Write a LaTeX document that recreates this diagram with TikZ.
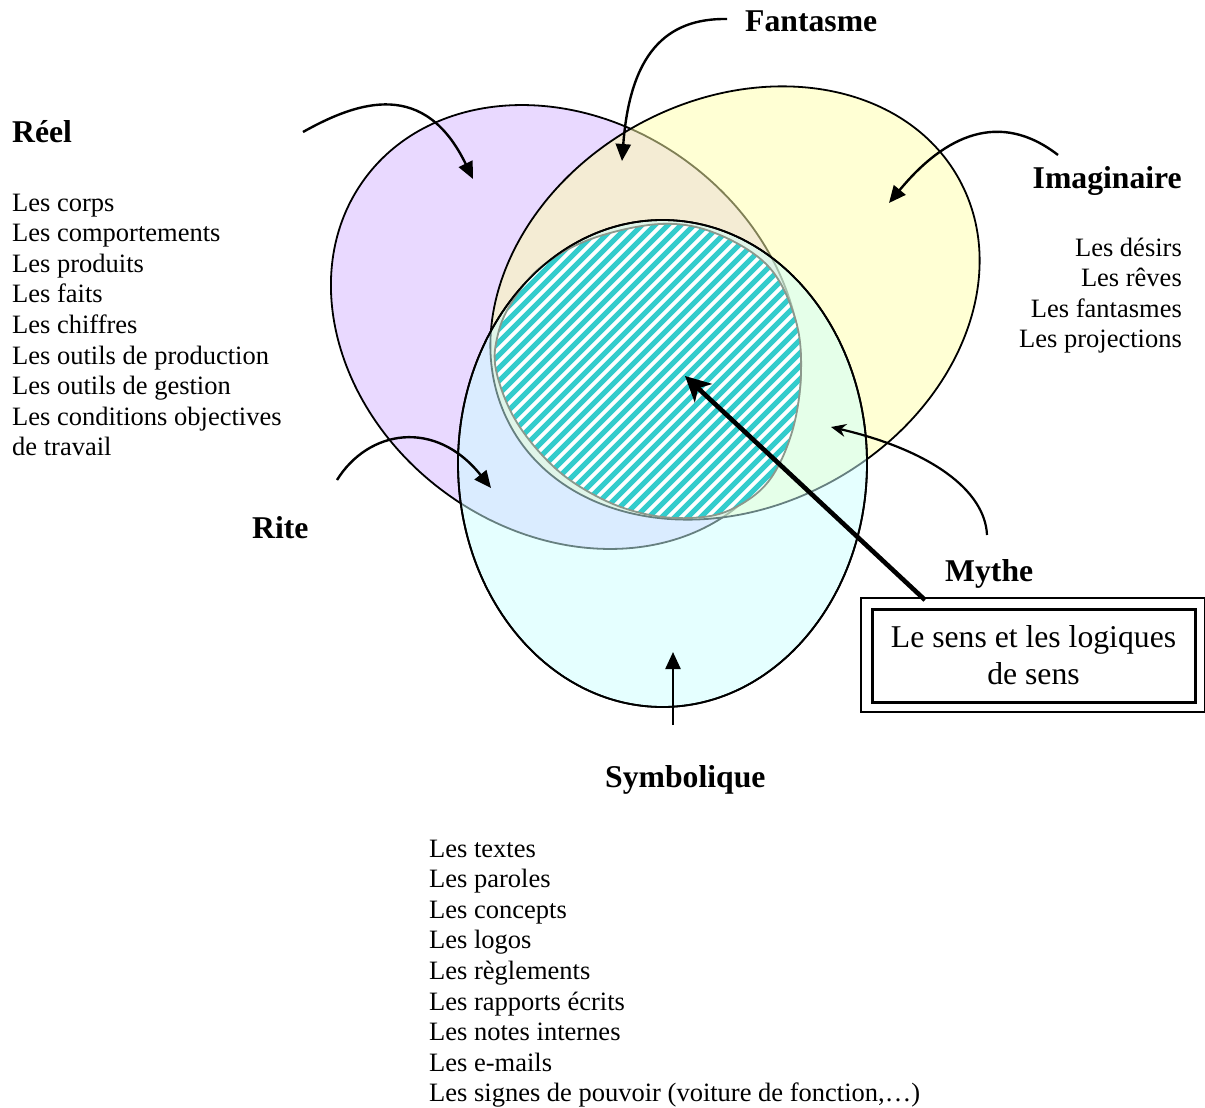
\documentclass[tikz,border=0pt]{standalone}
\usepackage{fontspec}
\setmainfont{Liberation Serif}
\usetikzlibrary{arrows.meta}
\definecolor{reelfill}{RGB}{233,217,255}
\definecolor{imagfill}{RGB}{255,255,171}
\definecolor{symbfill}{RGB}{205,255,255}
\definecolor{hatchcol}{RGB}{51,204,204}
\definecolor{hatchedge}{RGB}{140,152,140}
\begin{document}
\begin{tikzpicture}[x=1pt,y=-1pt,
  shapeline/.style={line width=1.8pt},
  conn/.style={line width=2.4pt,-{Triangle[length=17pt,width=15pt]}},
  thinconn/.style={line width=2.2pt,-{Stealth[length=15pt,width=13pt,inset=5pt]}},
  bigconn/.style={line width=4.6pt,-{Stealth[length=25pt,width=25pt,inset=7pt]}},
  lbl/.style={inner sep=0pt,font=\fontsize{31.7}{36}\selectfont\bfseries},
  txt/.style={inner sep=0pt,font=\fontsize{26.5}{30.6}\selectfont},
  boxtxt/.style={inner sep=0pt,align=center,font=\fontsize{31.7}{37}\selectfont},
  coeur/.style={plot,smooth cycle,tension=0.6}]
\useasboundingbox (0,0) rectangle (1205,1108);
\fill[white] (0,0) rectangle (1205,1108);
% Reel
\draw[shapeline,fill=reelfill,shift={(566,327)},rotate=-36.5] (0,0) ellipse [x radius=250,y radius=205];
% Imaginaire
\draw[shapeline,fill=imagfill,fill opacity=0.5,shift={(735,303)},rotate=29] (0,0) ellipse [x radius=256,y radius=203];
% Symbolique
\draw[shapeline,fill=symbfill,fill opacity=0.5] (662.5,463.5) ellipse [x radius=204.5,y radius=243.5];
% hatched centre
\def\coeurpts{(660,224) (715,233) (768,266) (795,318) (801,372) (792,432) (768,482) (730,510) (690,518) (645,514) (600,498) (555,468) (516,421) (496,370) (498,334) (512,302) (541,267) (591,239)}
\begin{scope}
  \clip plot[smooth cycle,tension=0.6] coordinates {\coeurpts};
  \fill[white] (470,200) rectangle (830,540);
  \foreach \k in {-350,-337,...,350}
    \draw[hatchcol,line width=5pt] ({650+\k-190},562) -- ({650+\k+190},182);
\end{scope}
\draw[hatchedge,line width=1.8pt] plot[smooth cycle,tension=0.6] coordinates {\coeurpts};
\draw[shapeline] (662.5,463.5) ellipse [x radius=204.5,y radius=243.5];
% labels
\node[lbl,anchor=base west] (fantasme) at (745,32) {Fantasme};
\node[lbl,anchor=base west] (reel) at (12,142) {Réel};
\node[lbl,anchor=base east] (imaginaire) at (1182,188) {Imaginaire};
\node[lbl,anchor=base west] (rite) at (252,538) {Rite};
\node[lbl,anchor=base west] (mythe) at (945,581) {Mythe};
\node[lbl,anchor=base west] (symbolique) at (605,787) {Symbolique};
% lists
\foreach \t [count=\i] in {Les corps,Les comportements,Les produits,Les faits,Les chiffres,Les outils de production,Les outils de gestion,Les conditions objectives,de travail}
  \node[txt,anchor=base west] (reelitem\i) at (12,{211+30.6*(\i-1)}) {\t};
\foreach \t [count=\i] in {Les désirs,Les rêves,Les fantasmes,Les projections}
  \node[txt,anchor=base east] (imagitem\i) at (1182,{256+30.6*(\i-1)}) {\t};
\foreach \t [count=\i] in {Les textes,Les paroles,Les concepts,Les logos,Les règlements,Les rapports écrits,Les notes internes,Les e-mails,{Les signes de pouvoir (voiture de fonction,…)}}
  \node[txt,anchor=base west] (symbitem\i) at (429,{857+30.6*(\i-1)}) {\t};
% box
\node[draw,line width=3pt,minimum width=323pt,minimum height=93pt,boxtxt] (sens) at (1033.5,655.5) {Le sens et les logiques\\de sens};
\draw[line width=2pt] ([shift={(-9.5,-9.5)}]sens.north west) rectangle ([shift={(8.5,8.5)}]sens.south east);
% arrows
\coordinate (reelA) at (303,132);
\coordinate (reelB) at (473,179);
\draw[conn] (reelA) .. controls (360,100) and (425,80) .. (reelB);
\coordinate (fanA) at (727,19);
\coordinate (fanB) at (622,161);
\draw[conn] (fanA) .. controls (665,18) and (630,55) .. (fanB);
\coordinate (imaA) at (1058,155);
\coordinate (imaB) at (889,203);
\draw[conn] (imaA) .. controls (1000,110) and (945,135) .. (imaB);
\coordinate (riteA) at (337,480);
\coordinate (riteB) at (491,488);
\draw[conn] (riteA) .. controls (368,430) and (435,418) .. (riteB);
\coordinate (mytA) at (987,535);
\coordinate (mytB) at (831,427);
\draw[thinconn] (mytA) .. controls (985,490) and (930,450) .. (mytB);
\coordinate (symA) at (673,725);
\coordinate (symB) at (673,652);
\draw[conn] (symA) -- (symB);
\coordinate (bigA) at (925,600);
\coordinate (bigB) at (685,376);
\draw[bigconn] (bigA) -- (bigB);
\end{tikzpicture}
\end{document}
